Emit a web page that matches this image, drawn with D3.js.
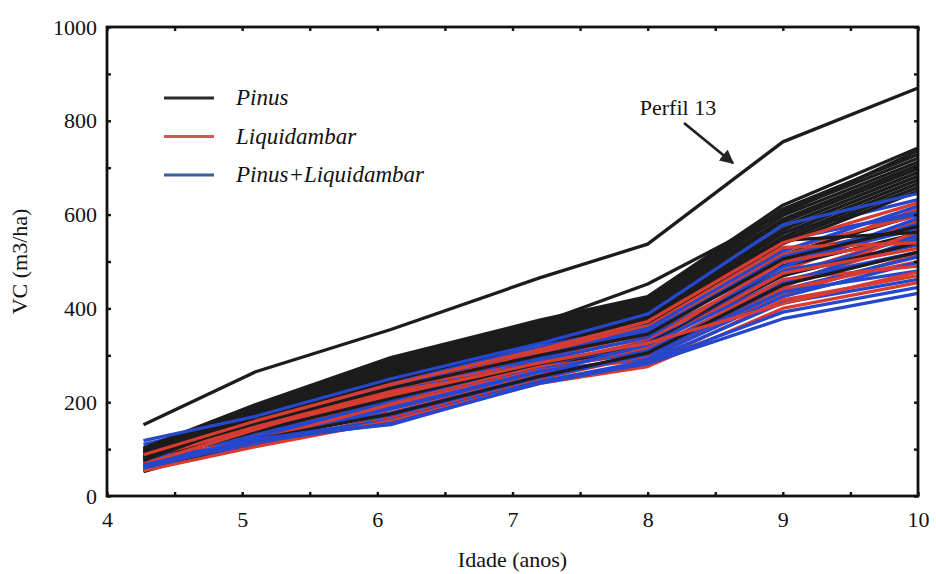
<!DOCTYPE html>
<html>
<head>
<meta charset="utf-8">
<script src="https://cdn.jsdelivr.net/npm/d3@7/dist/d3.min.js"></script>
<style>
  html, body { margin: 0; padding: 0; background: #fff; }
  svg { display: block; }
</style>
</head>
<body>
<svg id="chart" width="936" height="574"></svg>
<script>
// ---- data ----
const ages = [4.27, 5.1, 6.1, 7.2, 8.0, 9.0, 10.0];

const perfil13 = [152, 265, 355, 465, 537, 755, 870];

const pinus = [
  [100, 190, 284, 368, 452, 602, 736],
  [102, 195, 295, 375, 425, 620, 742],
  [96, 190, 290, 370, 422, 612, 728],
  [94, 186, 284, 364, 418, 606, 720],
  [92, 183, 278, 358, 414, 598, 712],
  [90, 180, 274, 354, 408, 590, 705],
  [88, 177, 270, 350, 402, 584, 698],
  [86, 175, 266, 346, 396, 576, 690],
  [84, 172, 262, 342, 390, 568, 682],
  [82, 170, 258, 338, 385, 560, 674],
  [80, 168, 254, 334, 380, 552, 666],
  [78, 166, 250, 330, 375, 545, 658],
  [76, 164, 246, 326, 370, 538, 650],
  [80, 166, 250, 330, 382, 545, 562]
];

const pinusLow = [
  [68, 145, 220, 298, 360, 515, 600],
  [60, 132, 198, 275, 320, 490, 560],
  [74, 138, 208, 282, 325, 470, 540],
  [52, 120, 175, 255, 305, 450, 520],
  [86, 155, 230, 300, 345, 505, 575]
];

const liquidambar = [
  [88, 160, 238, 312, 372, 540, 625],
  [62, 150, 232, 308, 360, 505, 612],
  [80, 140, 218, 300, 352, 525, 598],
  [70, 150, 235, 315, 340, 490, 585],
  [92, 145, 226, 292, 348, 515, 575],
  [58, 128, 212, 296, 335, 480, 590],
  [75, 152, 225, 286, 320, 470, 560],
  [66, 120, 200, 280, 330, 500, 548],
  [84, 136, 205, 270, 312, 455, 540],
  [56, 132, 222, 275, 305, 445, 565],
  [72, 112, 190, 264, 318, 475, 528],
  [60, 125, 178, 258, 298, 430, 515],
  [78, 118, 195, 268, 290, 440, 500],
  [55, 108, 170, 250, 300, 462, 490],
  [64, 115, 165, 246, 282, 418, 470],
  [54, 105, 160, 240, 276, 400, 455],
  [68, 142, 228, 305, 365, 530, 540],
  [82, 146, 215, 284, 326, 410, 478]
];

const mixed = [
  [118, 170, 250, 325, 388, 578, 645],
  [110, 165, 245, 318, 380, 562, 632],
  [98, 158, 236, 310, 365, 545, 605],
  [86, 155, 238, 302, 358, 522, 618],
  [76, 150, 228, 306, 346, 510, 580],
  [92, 138, 220, 294, 352, 498, 570],
  [64, 146, 210, 288, 338, 488, 592],
  [82, 130, 224, 278, 328, 470, 555],
  [70, 124, 204, 284, 318, 480, 535],
  [58, 134, 195, 270, 310, 452, 548],
  [74, 116, 185, 262, 322, 460, 520],
  [62, 126, 176, 256, 300, 440, 510],
  [80, 112, 188, 266, 294, 425, 498],
  [57, 110, 168, 252, 302, 435, 480],
  [68, 120, 162, 244, 288, 412, 462],
  [60, 116, 155, 240, 284, 392, 445],
  [66, 122, 152, 242, 282, 378, 432],
  [100, 160, 240, 315, 370, 550, 600]
];

const legendLabels = ["Pinus", "Liquidambar", "Pinus+Liquidambar"];
const xTickLabels = [4, 5, 6, 7, 8, 9, 10];
const yTickLabels = [0, 200, 400, 600, 800, 1000];

// ---- layout ----
const colors = { pinus: "#1c1c1c", liq: "#d83c30", mix: "#2547cc" };
const legendColors = ["#2a2a2a", "#cf5a52", "#3d5f9c"];
const FONT = "'Liberation Serif', serif";
const svg = d3.select("#chart");
const L = 107, R = 918, T = 27, B = 496;

const x = d3.scaleLinear().domain([4, 10]).range([L, R]);
const y = d3.scaleLinear().domain([0, 1000]).range([B, T]);

const line = d3.line().x((d, i) => x(ages[i])).y(d => y(d));

const series = [];
const n = Math.max(liquidambar.length, mixed.length);
for (let i = 1; i < n; i++) {
  if (liquidambar[i]) series.push({ v: liquidambar[i], c: colors.liq });
  if (mixed[i]) series.push({ v: mixed[i], c: colors.mix });
  if (i % 4 === 1 && pinusLow[(i - 1) / 4]) series.push({ v: pinusLow[(i - 1) / 4], c: colors.pinus });
}
pinus.forEach(v => series.push({ v, c: colors.pinus }));
series.push({ v: liquidambar[0], c: colors.liq });
series.push({ v: mixed[0], c: colors.mix });
series.push({ v: perfil13, c: colors.pinus });

svg.append("g").selectAll("path").data(series).join("path")
  .attr("d", d => line(d.v))
  .attr("fill", "none")
  .attr("stroke", d => d.c)
  .attr("stroke-width", 3.3)
  .attr("stroke-linejoin", "round");

// ---- axes ----
const yTicks = d3.range(0, 1001, 100);
const xTicks = d3.range(4, 10.01, 0.5);

const gl = svg.append("g").attr("transform", `translate(${L},0)`)
  .call(d3.axisLeft(y).tickValues(yTicks).tickSize(-4).tickPadding(10)
    .tickFormat(d => yTickLabels.includes(d) ? d : ""));
const gr = svg.append("g").attr("transform", `translate(${R},0)`)
  .call(d3.axisRight(y).tickValues(yTicks).tickSize(-4).tickFormat(""));
const gb = svg.append("g").attr("transform", `translate(0,${B})`)
  .call(d3.axisBottom(x).tickValues(xTicks).tickSize(-4).tickPadding(15)
    .tickFormat(d => xTickLabels.includes(d) ? d : ""));
const gt = svg.append("g").attr("transform", `translate(0,${T})`)
  .call(d3.axisTop(x).tickValues(xTicks).tickSize(-4).tickFormat(""));

[gl, gr, gb, gt].forEach(g => {
  g.attr("font-family", FONT).attr("font-size", 22);
  g.select(".domain").remove();
  g.selectAll(".tick line").attr("stroke", "#111").attr("stroke-width", 2.4);
  g.selectAll(".tick text").attr("fill", "#111");
});

svg.append("rect").attr("x", L).attr("y", T).attr("width", R - L).attr("height", B - T)
  .attr("fill", "none").attr("stroke", "#111").attr("stroke-width", 2.8);

svg.append("text").attr("x", (L + R) / 2).attr("y", 567)
  .attr("text-anchor", "middle").attr("font-family", FONT).attr("font-size", 22).attr("fill", "#111").text("Idade (anos)");
svg.append("text").attr("transform", `translate(27,${(T + B) / 2}) rotate(-90)`)
  .attr("text-anchor", "middle").attr("font-family", FONT).attr("font-size", 22).attr("fill", "#111").text("VC (m3/ha)");

const lg = svg.append("g");
legendLabels.forEach((lab, i) => {
  const yy = 98 + i * 38.5;
  lg.append("line").attr("x1", 164).attr("x2", 214).attr("y1", yy).attr("y2", yy)
    .attr("stroke", legendColors[i]).attr("stroke-width", 2.8);
  lg.append("text").attr("x", 236).attr("y", yy + 7).attr("font-family", FONT).attr("fill", "#111")
    .attr("font-size", 23).attr("font-style", "italic").text(lab);
});

svg.append("defs").append("marker").attr("id", "ah")
  .attr("viewBox", "0 0 10 10").attr("refX", 9).attr("refY", 5)
  .attr("markerWidth", 5).attr("markerHeight", 5).attr("orient", "auto")
  .append("path").attr("d", "M0,0 L10,5 L0,10 z").attr("fill", "#222");
svg.append("text").attr("x", 678).attr("y", 115).attr("text-anchor", "middle")
  .attr("font-family", FONT).attr("font-size", 22).attr("fill", "#111").text("Perfil 13");
svg.append("line").attr("x1", 684).attr("y1", 123).attr("x2", 733).attr("y2", 163)
  .attr("stroke", "#222").attr("stroke-width", 2.8).attr("marker-end", "url(#ah)");
</script>
</body>
</html>
